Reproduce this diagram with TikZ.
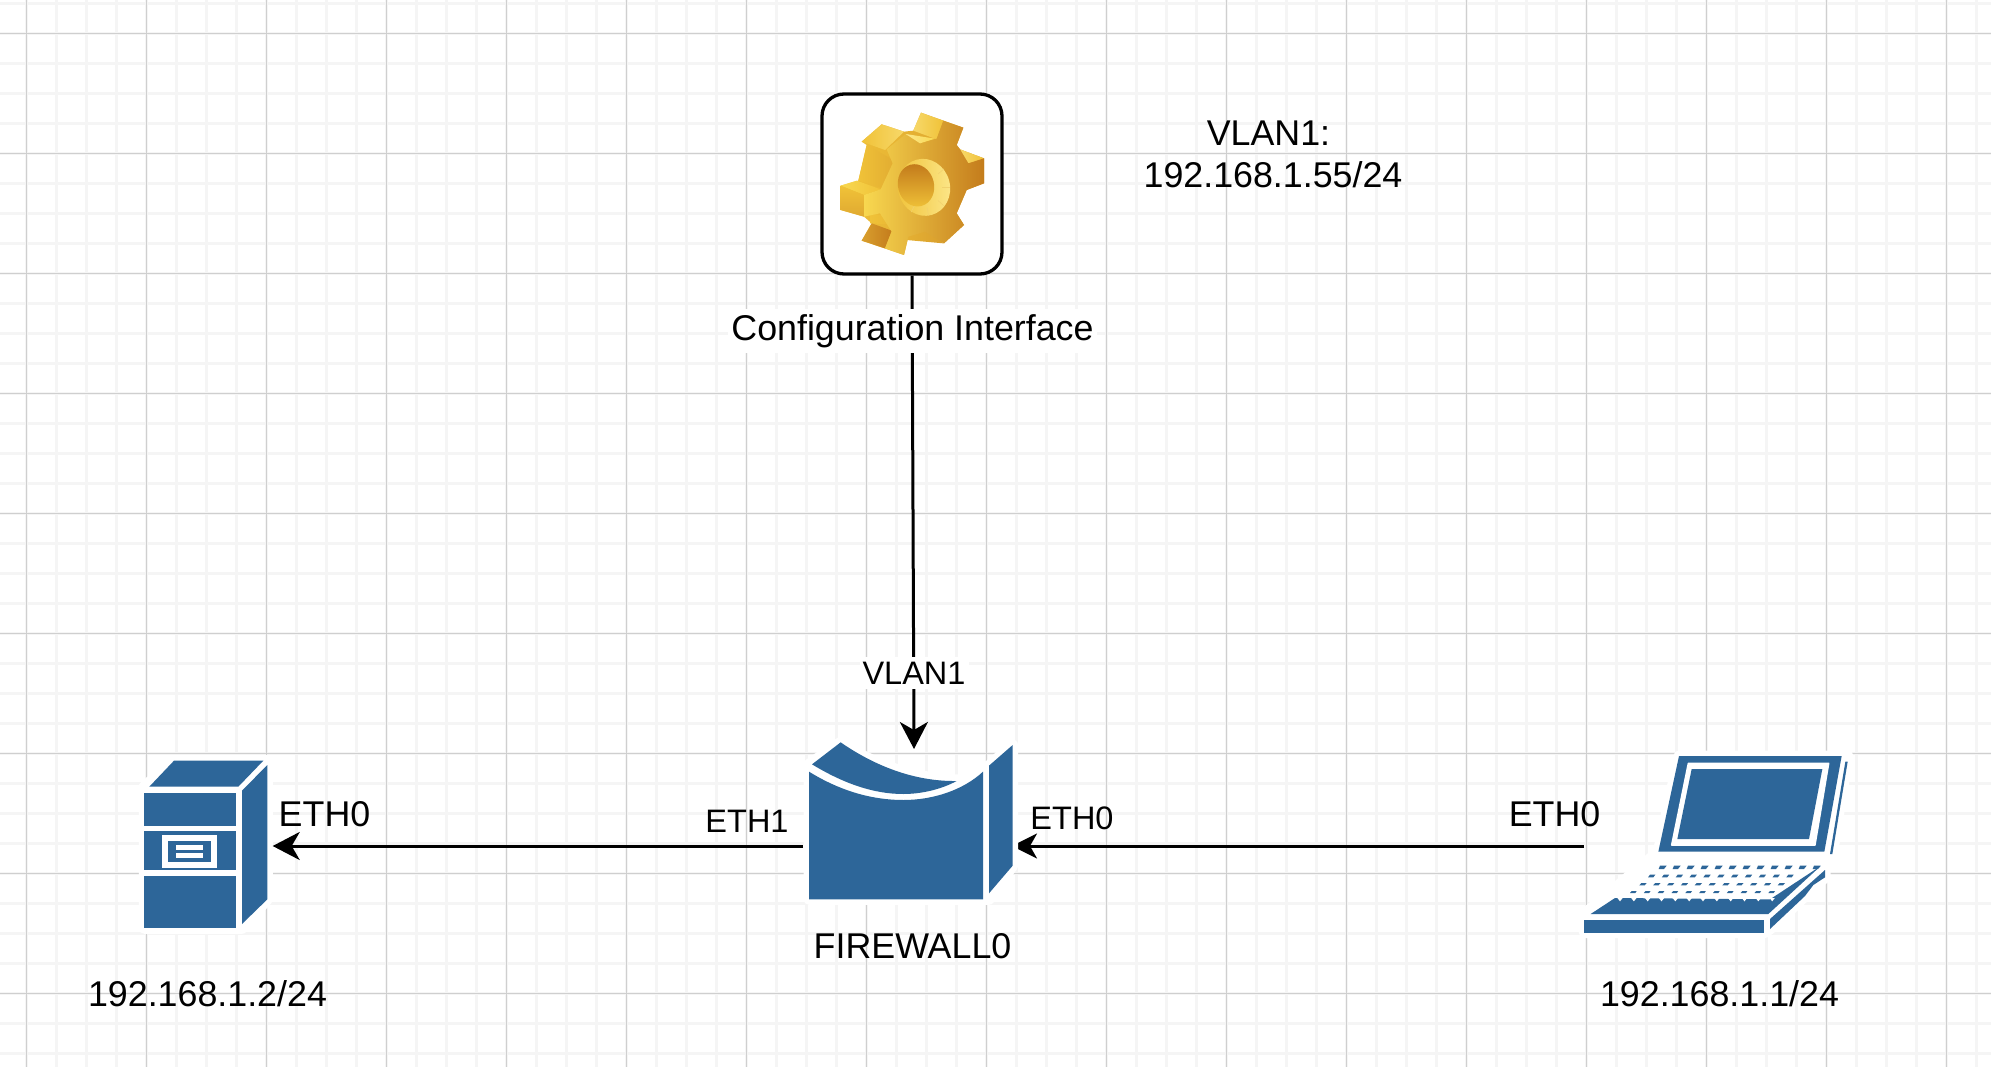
\documentclass[tikz,border=0pt]{standalone}
\usepackage{fontspec}
\setmainfont{Liberation Sans}
\usetikzlibrary{arrows.meta}
\definecolor{netblue}{HTML}{2D6699}
\definecolor{gridmin}{HTML}{F5F5F5}
\definecolor{gridmaj}{HTML}{CFCFCF}
\definecolor{gA}{HTML}{F8D850}
\definecolor{gB}{HTML}{F0C238}
\definecolor{gC}{HTML}{D99F2E}
\definecolor{gD}{HTML}{C47C1C}
\definecolor{gE}{HTML}{FCE78A}
\tikzset{
  lbl/.style={inner sep=0pt,font=\fontsize{35.8}{42}\selectfont,align=center,text=black},
  lblsmall/.style={inner sep=0pt,font=\fontsize{32.5}{40}\selectfont,text=black},
  lblbg/.style={lbl,fill=white,inner xsep=3pt,inner ysep=5pt},
  link/.style={draw=black,line width=3pt},
  tiplink/.style={link,-{Stealth[length=27pt,width=28pt,inset=8pt]}},
  cliplink/.style={link,-{Stealth[length=25pt,width=25pt,inset=7pt]}},
  blue/.style={fill=netblue,draw=none},
  halo/.style={fill=white,draw=white,line width=11pt,line join=round},
}
\begin{document}
\begin{tikzpicture}[x=1pt,y=-1pt]
\useasboundingbox (0,0) rectangle (1991,1067);
\fill[white] (0,0) rectangle (1991,1067);
% grid
\foreach \k in {0,...,65} \draw[gridmin,line width=2.2pt] ({26.5+30*\k},0) -- ({26.5+30*\k},1067);
\foreach \k in {0,...,35} \draw[gridmin,line width=2.2pt] (0,{3.5+30*\k}) -- (1991,{3.5+30*\k});
\foreach \k in {0,...,16} \draw[gridmaj,line width=1.5pt] ({26.5+120*\k},0) -- ({26.5+120*\k},1067);
\foreach \k in {0,...,8} \draw[gridmaj,line width=1.5pt] (0,{33.5+120*\k}) -- (1991,{33.5+120*\k});

% connector ends
\coordinate (fwN) at (914,749);
\coordinate (fwE) at (1012,846);
\coordinate (fwW) at (803,846);
\coordinate (srvE) at (272.7,846);
\coordinate (lapW) at (1584,846);

% configuration box
\node[draw=black,line width=3.3pt,rounded corners=22pt,fill=white,minimum width=180pt,minimum height=180pt,inner sep=0pt] (cfg) at (912,184) {};

% gear (drawn in crop coordinates)
\begin{scope}[shift={(760,60)},x=0.33333pt,y=-0.33333pt]
  % rear silhouette
  \shade[left color=gB,right color=gC]
    (483,158) -- (610,203) -- (590,255) -- (600,268) -- (672,295) -- (672,370) -- (620,390) -- (590,460)
    -- (612,495) -- (552,550) -- (495,515) -- (445,530) -- (432,585) -- (305,542) -- (335,490) -- (312,470)
    -- (242,450) -- (242,377) -- (295,362) -- (320,255) -- (305,245) -- (365,193) -- (432,215) -- (460,212) -- cycle;
  % rear body between teeth
  \shade[left color=gB,right color=gC!60!gB] (320,255) -- (400,300) -- (370,385) -- (295,362) -- cycle;
  \shade[left color=gB,right color=gC] (330,460) -- (400,470) -- (440,540) -- (550,550) -- (500,500) -- (330,490) -- cycle;
  \shade[left color=gE!60!gB,right color=gB] (600,268) -- (672,295) -- (625,315) -- cycle;
  % top tooth
  \shade[left color=gE!60!gB,right color=gB] (483,158) -- (550,182) -- (530,238) -- (460,212) -- cycle;
  % upper-left tooth
  \shade[left color=gB,right color=gE!60!gB] (365,193) -- (432,215) -- (375,270) -- (305,245) -- cycle;
  % left tooth
  \shade[left color=gA,right color=gB] (242,377) -- (290,362) -- (362,388) -- (312,405) -- cycle;
  \shade[top color=gB,bottom color=gC!70!gB] (242,377) -- (312,405) -- (312,470) -- (242,450) -- cycle;
  % lower-left tooth
  \shade[left color=gC,right color=gD] (335,490) -- (395,512) -- (375,565) -- (305,542) -- cycle;
  % front face
  \shade[left color=gA,middle color=gC!55!gB,right color=gD]
    (380,268) -- (437,222) -- (480,250) -- (530,236) -- (550,182) -- (610,203) -- (590,255) -- (600,268)
    -- (625,310) -- (672,295) -- (672,370) -- (620,390) -- (590,460) -- (612,495) -- (552,550)
    -- (495,515) -- (445,530) -- (432,585) -- (375,565) -- (395,515) -- (360,460) -- (312,470)
    -- (312,405) -- (362,388) -- (398,310) -- cycle;
  \shade[left color=gE,right color=gA] (437,222) -- (525,236) -- (480,250) -- cycle;
  % hole
  \shade[rotate around={15:(492,382)},left color=gB,right color=gE] (492,382) ellipse [x radius=78,y radius=86];
  \foreach \a in {-40,0,40,80,120}
    \draw[gC!30!gE,line width=0.5pt] ({492+55*cos(\a)},{382+62*sin(\a)}) -- ({492+78*cos(\a)},{382+86*sin(\a)});
  \shade[rotate around={15:(468,376)},top color=gD,bottom color=gB] (468,376) ellipse [x radius=54,y radius=64];
\end{scope}

% link that the firewall's white edge cuts
\draw[cliplink] (lapW) -- (fwE);
\draw[tiplink] (cfg.south) -- (fwN);

% firewall
\begin{scope}[shift={(780,700)},x=0.33333pt,y=-0.33333pt]
  \path[halo] (87,598) -- (87,193) -- (182,127) .. controls (300,210) and (450,240) .. (540,240)
     -- (627,197) -- (698,135) -- (698,497) -- (627,598) -- cycle;
  \path[blue] (87,215) .. controls (200,285) and (300,300) .. (370,300) .. controls (460,300) and (550,270) .. (609,215)
     -- (609,598) -- (87,598) -- cycle;
  \path[blue] (96,193) -- (182,127) .. controls (280,195) and (400,245) .. (530,243)
     .. controls (480,270) and (420,282) .. (370,282) .. controls (280,282) and (190,250) .. (96,193) -- cycle;
  \path[blue] (627,197) -- (698,135) -- (698,497) -- (627,580) -- cycle;
\end{scope}

% server
\begin{scope}[shift={(120,740)},x=0.33333pt,y=-0.33333pt]
  \path[halo] (73,140) -- (162,62) -- (442,62) -- (442,478) -- (366,565) -- (73,565) -- cycle;
  \path[blue] (88,140) -- (162,62) -- (430,62) -- (355,140) -- cycle;
  \path[blue] (366,152) -- (442,75) -- (442,478) -- (366,552) -- cycle;
  \path[blue] (73,158) rectangle (348,257);
  \path[blue] (73,274) rectangle (348,391);
  \path[blue] (73,408) rectangle (348,565);
  \path[fill=white] (127,285) rectangle (290,385);
  \path[blue] (145,302) rectangle (273,367);
  \path[fill=white] (168,315) rectangle (248,331);
  \path[fill=white] (168,338) rectangle (248,355);
\end{scope}

% laptop
\begin{scope}[shift={(1570,740)},x=0.33333pt,y=-0.33333pt]
  \path[halo] (327,48) -- (833,48) -- (787,342) -- (765,390) -- (765,412) -- (600,567) -- (583,578) -- (43,578) -- (43,522) -- (265,335) -- cycle;
  \path[blue] (327,48) -- (815,48) -- (763,335) -- (265,335) -- cycle;
  \path[fill=white,draw=white,line width=1.5pt,line join=round] (355,70) -- (776,70) -- (735,315) -- (305,315) -- cycle;
  \path[blue] (365,87) -- (757,87) -- (717,297) -- (322,297) -- cycle;
  \path[blue] (826,65) -- (833,65) -- (787,342) -- (780,342) -- cycle;
  % keyboard tray
  \path[blue] (62,522) -- (135,474) -- (600,478) -- (752,378) -- (595,522) -- cycle;
  \foreach \k in {0,...,11} \path[fill=white] ({142+41.5*\k},474) -- ({158+41.5*\k},474) -- ({150+41.5*\k},484) -- cycle;
  % keys
  \foreach \k in {0,...,11} \path[blue] ({270+42*\k},377) -- ({290+42*\k},377) -- ({282+42*\k},387) -- ({266+42*\k},387) -- cycle;
  \foreach \k in {0,...,10} \path[blue] ({240+41.5*\k},404) -- ({256+41.5*\k},404) -- ({250+41.5*\k},412) -- ({234+41.5*\k},412) -- cycle;
  \foreach \k in {0,...,10} \path[blue] ({214+41.5*\k},429) -- ({230+41.5*\k},429) -- ({224+41.5*\k},436) -- ({208+41.5*\k},436) -- cycle;
  \foreach \k in {0,...,10} \path[blue] ({185+41.5*\k},453) -- ({200+41.5*\k},453) -- ({196+41.5*\k},459) -- ({180+41.5*\k},459) -- cycle;
  % base
  \path[blue] (43,540) rectangle (583,578);
  \path[blue] (600,537) -- (765,390) -- (765,412) -- (730,435) -- (705,468) -- (600,567) -- cycle;
\end{scope}

% connector from the firewall to the server
\draw[tiplink] (fwW) -- (srvE);

% labels
\node[lbl] (vlanaddr) at (1273,154) {VLAN1:\hspace*{9pt}\null\\192.168.1.55/24};
\node[lblbg] (cfglabel) at (912.5,331) {Configuration Interface};
\node[lblbg,font=\fontsize{32.5}{40}\selectfont] (vlanlabel) at (914,673) {VLAN1};
\node[lbl] (srveth) at (324.5,814) {ETH0};
\node[lblsmall] (fweth1) at (747,821) {ETH1};
\node[lblsmall] (fweth0) at (1072,818) {ETH0};
\node[lbl] (lapeth) at (1554.5,814) {ETH0};
\node[lbl] (fwname) at (912.5,946) {FIREWALL0};
\node[lbl] (srvaddr) at (207.5,994) {192.168.1.2/24};
\node[lbl] (lapaddr) at (1719.5,994) {192.168.1.1/24};
\end{tikzpicture}
\end{document}
